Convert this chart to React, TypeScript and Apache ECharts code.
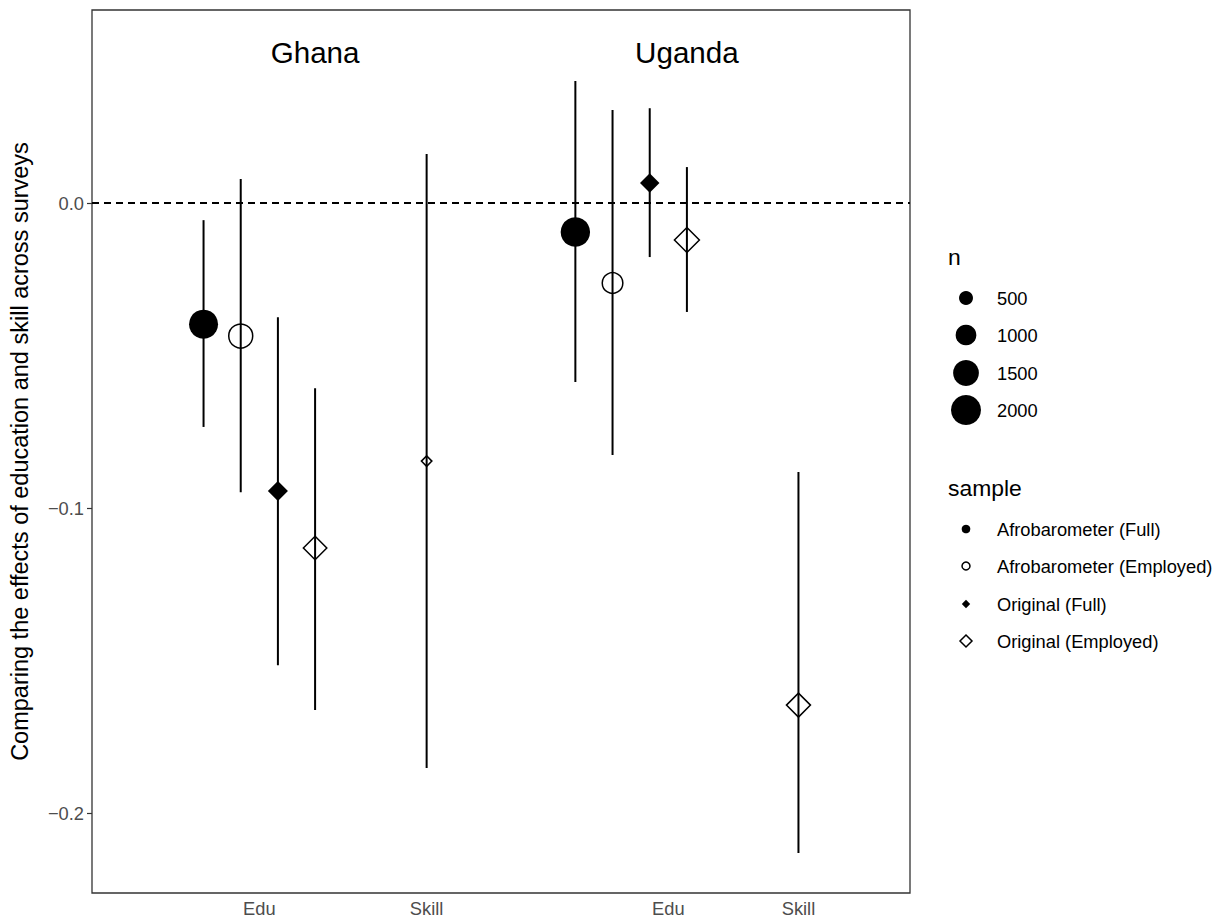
import React, { useEffect, useRef } from "react";
import * as echarts from "echarts";

// ---- data ----
const sampleNames = [
  "Afrobarometer (Full)",
  "Afrobarometer (Employed)",
  "Original (Full)",
  "Original (Employed)",
];
// per-point arrays (dodged x position on a continuous axis)
const pointSample = [0, 1, 2, 3, 3, 0, 1, 2, 3, 3];
const pointX = [3, 4, 5, 6, 9, 13, 14, 15, 16, 19];
const estimate = [-0.0397, -0.0436, -0.0944, -0.1131, -0.0846, -0.0095, -0.0262, 0.0066, -0.0121, -0.1646];
const lower = [-0.0734, -0.0948, -0.1515, -0.1662, -0.1852, -0.0587, -0.0826, -0.0177, -0.0357, -0.2131];
const upper = [-0.0056, 0.0079, -0.0374, -0.0607, 0.0161, 0.04, 0.0305, 0.0311, 0.0118, -0.0882];
const sampleN = [1880, 1310, 940, 670, 200, 1930, 990, 890, 750, 700];

const xTickValues = [4.5, 9, 15.5, 19];
const xTickLabels = ["Edu", "Skill", "Edu", "Skill"];
const yTickValues = [-0.2, -0.1, 0];
const yTickLabels = ["\u22120.2", "\u22120.1", "0.0"];
const countryLabels = ["Ghana", "Uganda"];
const countryX = [6, 16];
const countryY = [0.0495, 0.0495];
const legendN = [500, 1000, 1500, 2000];

const FONT = "'Liberation Sans', Arial, Helvetica, sans-serif";

function radius(n: number) {
  return Math.sqrt(Math.max(1, 0.117 * n - 9.7));
}
const shapeSymbol = ["circle", "circle", "diamond", "diamond"];
const shapeFactor = [2, 2, 2, 2 * 1.414];
const shapeFilled = [true, false, true, false];

export default function App() {
  const ref = useRef<HTMLDivElement>(null);
  useEffect(() => {
    if (!ref.current) return;
    const chart = echarts.init(ref.current, undefined, { renderer: "svg" });

    const barData = pointX.map((x, i) => [x, lower[i], upper[i]]);

    const scatterSeries = sampleNames.map((name, s) => ({
      type: "scatter",
      name,
      z: 3,
      symbol: shapeSymbol[s],
      data: pointX
        .map((x, i) => ({ i, x }))
        .filter((d) => pointSample[d.i] === s)
        .map((d) => [d.x, estimate[d.i], sampleN[d.i]]),
      symbolSize: (v: number[]) => radius(v[2]) * shapeFactor[s],
      itemStyle: shapeFilled[s]
        ? { color: "#000", borderWidth: 0, opacity: 1 }
        : { color: "rgba(0,0,0,0)", borderColor: "#000", borderWidth: 1.5, opacity: 1 },
      emphasis: { disabled: true },
    }));

    // legend graphics
    const graphics: any[] = [];
    const lx = 966;
    const tx = 997;
    graphics.push({
      type: "text",
      left: 948,
      top: 245,
      style: { text: "n", font: `22.9px ${FONT}`, fill: "#000" },
    });
    const nY = [298, 335, 373, 410];
    legendN.forEach((n, k) => {
      graphics.push({
        type: "circle",
        shape: { cx: lx, cy: nY[k], r: radius(n) },
        style: { fill: "#000" },
      });
      graphics.push({
        type: "text",
        x: tx,
        y: nY[k],
        style: { text: String(n), font: `18.3px ${FONT}`, fill: "#000", verticalAlign: "middle" },
      });
    });
    graphics.push({
      type: "text",
      left: 948,
      top: 476,
      style: { text: "sample", font: `22.9px ${FONT}`, fill: "#000" },
    });
    const sY = [529, 566, 604, 641];
    sampleNames.forEach((name, k) => {
      const y = sY[k];
      if (k === 0) {
        graphics.push({ type: "circle", shape: { cx: lx, cy: y, r: 4.3 }, style: { fill: "#000" } });
      } else if (k === 1) {
        graphics.push({
          type: "circle",
          shape: { cx: lx, cy: y, r: 4 },
          style: { fill: "none", stroke: "#000", lineWidth: 1.5 },
        });
      } else if (k === 2) {
        const h = 4.2;
        graphics.push({
          type: "polygon",
          shape: { points: [[lx, y - h], [lx + h, y], [lx, y + h], [lx - h, y]] },
          style: { fill: "#000" },
        });
      } else {
        const h = 6;
        graphics.push({
          type: "polygon",
          shape: { points: [[lx, y - h], [lx + h, y], [lx, y + h], [lx - h, y]] },
          style: { fill: "none", stroke: "#000", lineWidth: 1.5 },
        });
      }
      graphics.push({
        type: "text",
        x: tx,
        y,
        style: { text: name, font: `18.3px ${FONT}`, fill: "#000", verticalAlign: "middle" },
      });
    });

    const option: any = {
      animation: false,
      backgroundColor: "#fff",
      textStyle: { fontFamily: FONT },
      grid: {
        left: 92,
        top: 10,
        right: 318,
        bottom: 28,
        show: true,
        borderColor: "#333",
        borderWidth: 1.3,
        backgroundColor: "transparent",
      },
      xAxis: {
        type: "value",
        min: 0,
        max: 22,
        axisLine: { show: false },
        axisTick: { show: false },
        splitLine: { show: false },
        axisLabel: {
          customValues: xTickValues,
          formatter: (v: number) => {
            const k = xTickValues.findIndex((t) => Math.abs(t - v) < 1e-6);
            return k >= 0 ? xTickLabels[k] : "";
          },
          color: "#4D4D4D",
          fontSize: 18.3,
          fontFamily: FONT,
          margin: 6,
        },
      },
      yAxis: {
        type: "value",
        min: -0.2262,
        max: 0.0633,
        axisLine: { show: false },
        splitLine: { show: false },
        axisTick: {
          show: true,
          customValues: yTickValues,
          length: 5,
          lineStyle: { color: "#333", width: 1.2 },
        },
        axisLabel: {
          customValues: yTickValues,
          formatter: (v: number) => {
            const k = yTickValues.findIndex((t) => Math.abs(t - v) < 1e-6);
            return k >= 0 ? yTickLabels[k] : "";
          },
          color: "#4D4D4D",
          fontSize: 18.3,
          fontFamily: FONT,
          margin: 8,
        },
        name: "Comparing the effects of education and skill across surveys",
        nameLocation: "middle",
        nameRotate: 90,
        nameGap: 60,
        nameTextStyle: { color: "#000", fontSize: 23.5, fontFamily: FONT },
      },
      series: [
        {
          type: "custom",
          name: "ci",
          z: 2,
          data: barData,
          encode: { x: 0, y: [1, 2] },
          renderItem: (params: any, api: any) => {
            const p1 = api.coord([api.value(0), api.value(1)]);
            const p2 = api.coord([api.value(0), api.value(2)]);
            return {
              type: "line",
              shape: { x1: p1[0], y1: p1[1], x2: p2[0], y2: p2[1] },
              style: { stroke: "#000", lineWidth: 2 },
            };
          },
          markLine: {
            silent: true,
            symbol: "none",
            label: { show: false },
            lineStyle: { color: "#000", type: [7, 5], width: 1.8, opacity: 1 },
            data: [{ yAxis: 0 }],
          },
        },
        ...scatterSeries,
        {
          type: "scatter",
          name: "country",
          z: 4,
          symbolSize: 0,
          itemStyle: { opacity: 1 },
          data: countryLabels.map((c, i) => ({ value: [countryX[i], countryY[i]], name: c })),
          label: {
            show: true,
            position: "inside",
            formatter: (p: any) => p.name,
            color: "#000",
            opacity: 1,
            fontSize: 29.6,
            fontFamily: FONT,
          },
          emphasis: { disabled: true },
        },
      ],
      graphic: graphics,
    };
    chart.setOption(option);
    return () => chart.dispose();
  }, []);

  return (
    <div
      ref={ref}
      style={{ position: "fixed", left: 0, top: 0, width: 1228, height: 921, background: "#fff" }}
    />
  );
}
